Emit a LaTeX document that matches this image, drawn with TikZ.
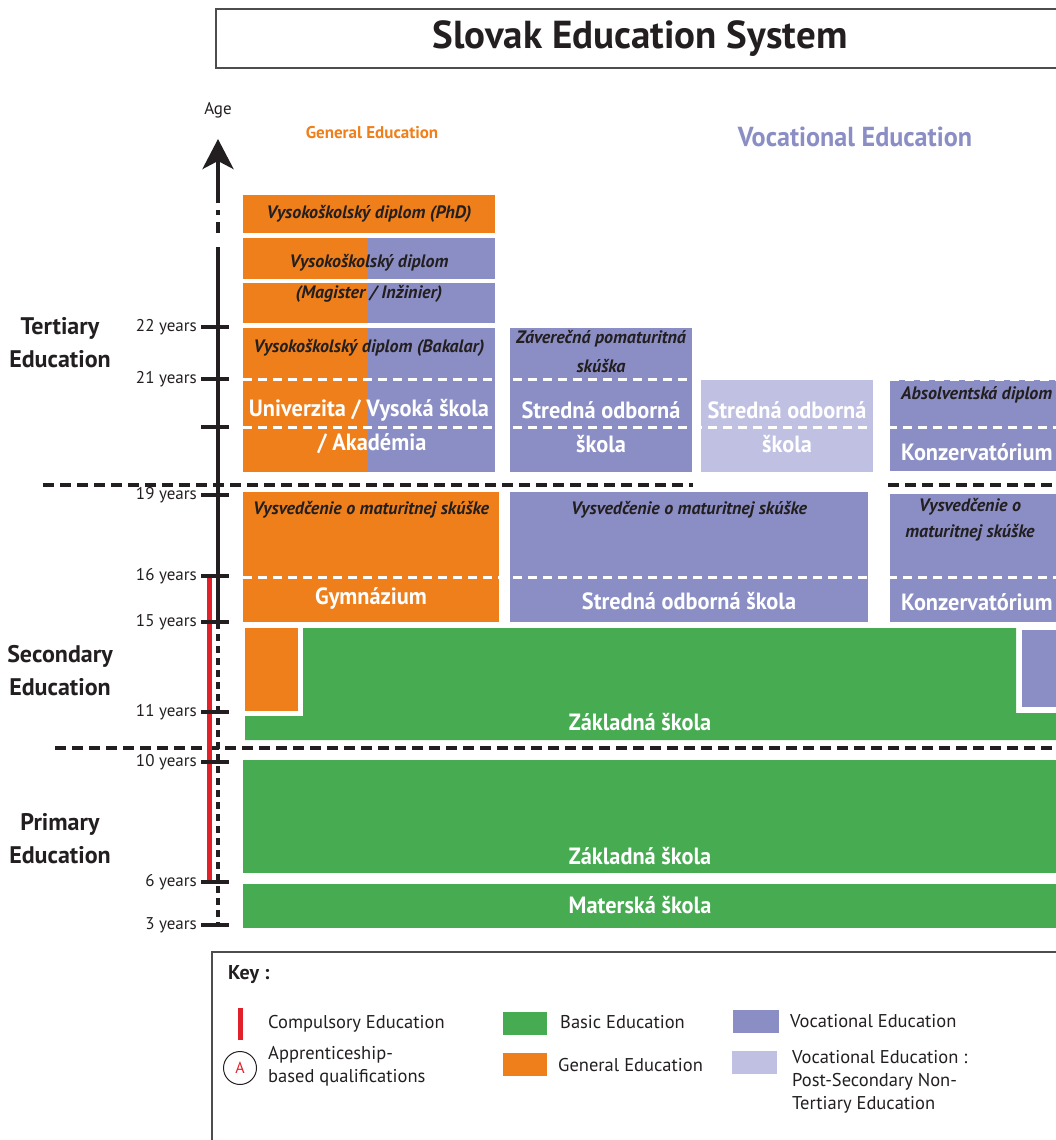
\documentclass[tikz,border=0pt]{standalone}
\usepackage{fontspec}
\setmainfont{PT Sans}
\newfontfamily\cond[FakeStretch=0.95]{PT Sans}
\usetikzlibrary{arrows.meta}
\definecolor{gen}{HTML}{EF7F1A}
\definecolor{voc}{HTML}{8B8EC5}
\definecolor{vocl}{HTML}{C0C1E2}
\definecolor{bas}{HTML}{47AB52}
\definecolor{comp}{HTML}{E2202A}
\definecolor{ink}{HTML}{231F20}
\tikzset{
  wlab/.style={font=\cond\bfseries\fontsize{23.5}{26}\selectfont, text=white, inner sep=0},
  ilab/.style={font=\bfseries\itshape\fontsize{18}{20}\selectfont, text=ink, inner sep=0},
  agelab/.style={font=\fontsize{17}{19}\selectfont, anchor=east, inner sep=0, text=ink},
  level/.style={font=\bfseries\fontsize{24}{33}\selectfont, align=center, text=ink, inner sep=0},
  keytxt/.style={font=\fontsize{18.5}{23}\selectfont, anchor=west, align=left, text=ink, inner sep=0},
  bdash/.style={line width=4, dash pattern=on 11 off 6, ink},
  wdash/.style={line width=3, dash pattern=on 9 off 6, white},
  tickmark/.style={line width=3.5, ink},
}
\begin{document}
\begin{tikzpicture}[x=1pt,y=-1pt]
\useasboundingbox (0,0) rectangle (1056,1140);
\clip (0,0) rectangle (1056,1140);
% title
\draw[line width=1.5, ink!80] (216,9) rectangle (1070,68);
\node[font=\bfseries\fontsize{39}{42}\selectfont, text=ink, inner sep=0] (title) at (640,39) {Slovak Education System};
% column heads
\node[font=\fontsize{17}{19}\selectfont, text=ink, inner sep=0] (age) at (218,110) {Age};
\node[font=\bfseries\fontsize{17}{19}\selectfont, text=gen, inner sep=0] (genhead) at (372,133) {General Education};
\node[font=\cond\bfseries\fontsize{27.5}{30}\selectfont, text=voc, inner sep=0] (vochead) at (855,137) {Vocational Education};
% level labels
\node[level] (tert) at (60,343) {Tertiary\\Education};
\node[level] (sec) at (60,671) {Secondary\\Education};
\node[level] (prim) at (60,839) {Primary\\Education};

% ---- tertiary boxes
\fill[gen] (243,195) rectangle (495,233);
\node[ilab] (phd) at (369,214) {Vysokoškolský diplom (PhD)};
\fill[gen] (243,238) rectangle (368,279);
\fill[voc] (368,238) rectangle (495,279);
\fill[gen] (243,283) rectangle (368,323);
\fill[voc] (368,283) rectangle (495,323);
\node[ilab] (mag1) at (369,263) {Vysokoškolský diplom};
\node[ilab] (mag2) at (369,294) {(Magister / Inžinier)};
\fill[gen] (243,328) rectangle (368,472);
\fill[voc] (368,328) rectangle (495,472);
\fill[voc] (510,328) rectangle (692,472);
\fill[vocl] (701,380) rectangle (873,472);
\fill[voc] (890,380) rectangle (1060,471);
\draw[wdash] (243,379) -- (692,379);
\draw[wdash] (243,427) -- (1060,427);
\draw[wdash] (890,379) -- (1060,379);
\node[ilab] (bak) at (369,348) {Vysokoškolský diplom (Bakalar)};
\node[wlab] (univ1) at (369,410) {Univerzita / Vysoká škola};
\node[wlab] (univ2) at (372,444) {/ Akadémia};
\node[ilab] (zav1) at (601,339) {Záverečná pomaturitná};
\node[ilab] (zav2) at (601,366) {skúška};
\node[wlab] (sos1) at (601,410) {Stredná odborná};
\node[wlab] (sos2) at (601,444) {škola};
\node[wlab] (psn1) at (787,410) {Stredná odborná};
\node[wlab] (psn2) at (787,444) {škola};
\node[ilab, anchor=west] (absol) at (901,395) {Absolventská diplom};
\node[wlab, anchor=west] (konz1) at (901,452) {Konzervatórium};

% ---- upper secondary
\fill[gen] (243,492) rectangle (499,622);
\fill[voc] (510,492) rectangle (868,622);
\fill[voc] (890,494) rectangle (1060,622);
\draw[wdash] (243,577) -- (1060,577);
\node[ilab] (mat1) at (371,510) {Vysvedčenie o maturitnej skúške};
\node[wlab] (gym) at (371,598) {Gymnázium};
\node[ilab] (mat2) at (689,510) {Vysvedčenie o maturitnej skúške};
\node[wlab] (sos3) at (689,601) {Stredná odborná škola};
\node[ilab] (mat3a) at (970,507) {Vysvedčenie o};
\node[ilab] (mat3b) at (970,533) {maturitnej skúške};
\node[wlab, anchor=west] (konz2) at (901,602) {Konzervatórium};

% ---- lower secondary
\fill[bas] (303,628) -- (1016,628) -- (1016,713) -- (1060,713) -- (1060,740) -- (245,740) -- (245,716) -- (303,716) -- cycle;
\fill[gen] (245,628) rectangle (298,711);
\fill[voc] (1022,630) rectangle (1060,707);
\node[wlab] (zak1) at (640,722) {Základná škola};

% ---- primary
\fill[bas] (243,760) rectangle (1060,873);
\node[wlab] (zak2) at (640,856) {Základná škola};
\fill[bas] (243,884) rectangle (1060,928);
\node[wlab] (mat) at (640,905) {Materská škola};

% ---- separators
\draw[bdash] (43,485) -- (693,485);
\draw[bdash] (888,485) -- (1060,485);
\draw[bdash] (55,748) -- (1060,748);

% ---- axis
\draw[comp, line width=5] (209,576) -- (209,882);
\draw[ink, line width=4, dash pattern=on 7 off 5] (218,622) -- (218,925);
\draw[ink, line width=4] (218,622) -- (218,247);
\draw[ink, line width=4] (218,233) -- (218,222);
\draw[ink, line width=4] (218,215) -- (218,210);
\draw[ink, line width=4, -{Stealth[length=30pt,width=31pt,inset=8pt]}] (218,203) -- (218,139);
\foreach \y/\lab/\n in {327/22 years/a22,379/21 years/a21,427//a20,495/19 years/a19,576/16 years/a16,622/15 years/a15,712/11 years/a11,762/10 years/a10,882/6 years/a6,925/3 years/a3}{
  \draw[tickmark] (201,\y) -- (229,\y);
  \node[agelab] (\n) at (197,\y) {\lab};
}

% ---- key
\draw[line width=1.5, ink!80] (212,952) rectangle (1070,1150);
\node[font=\bfseries\fontsize{20}{22}\selectfont, text=ink, anchor=west, inner sep=0] (key) at (228,975) {Key :};
\draw[comp, line width=5] (240,1008) -- (240,1040);
\node[keytxt] (kcomp) at (268,1024) {Compulsory Education};
\node[draw=ink, line width=1, circle, minimum size=33, inner sep=0, text=comp, font=\fontsize{16}{18}\selectfont] (kA) at (240,1068) {A};
\node[keytxt] (kapp) at (268,1066) {Apprenticeship-\\based qualifications};
\fill[bas] (503,1012) rectangle (547,1035);
\node[keytxt] (kbas) at (560,1022) {Basic Education};
\fill[gen] (503,1053) rectangle (547,1076);
\node[keytxt] (kgen) at (558,1065) {General Education};
\fill[voc] (733,1010) rectangle (779,1033);
\node[keytxt] (kvoc) at (790,1021) {Vocational Education};
\fill[vocl] (732,1051) rectangle (777,1074);
\node[keytxt, anchor=north west] (kvocl) at (792,1050) {Vocational Education :\\Post-Secondary Non-\\Tertiary Education};
\end{tikzpicture}
\end{document}
